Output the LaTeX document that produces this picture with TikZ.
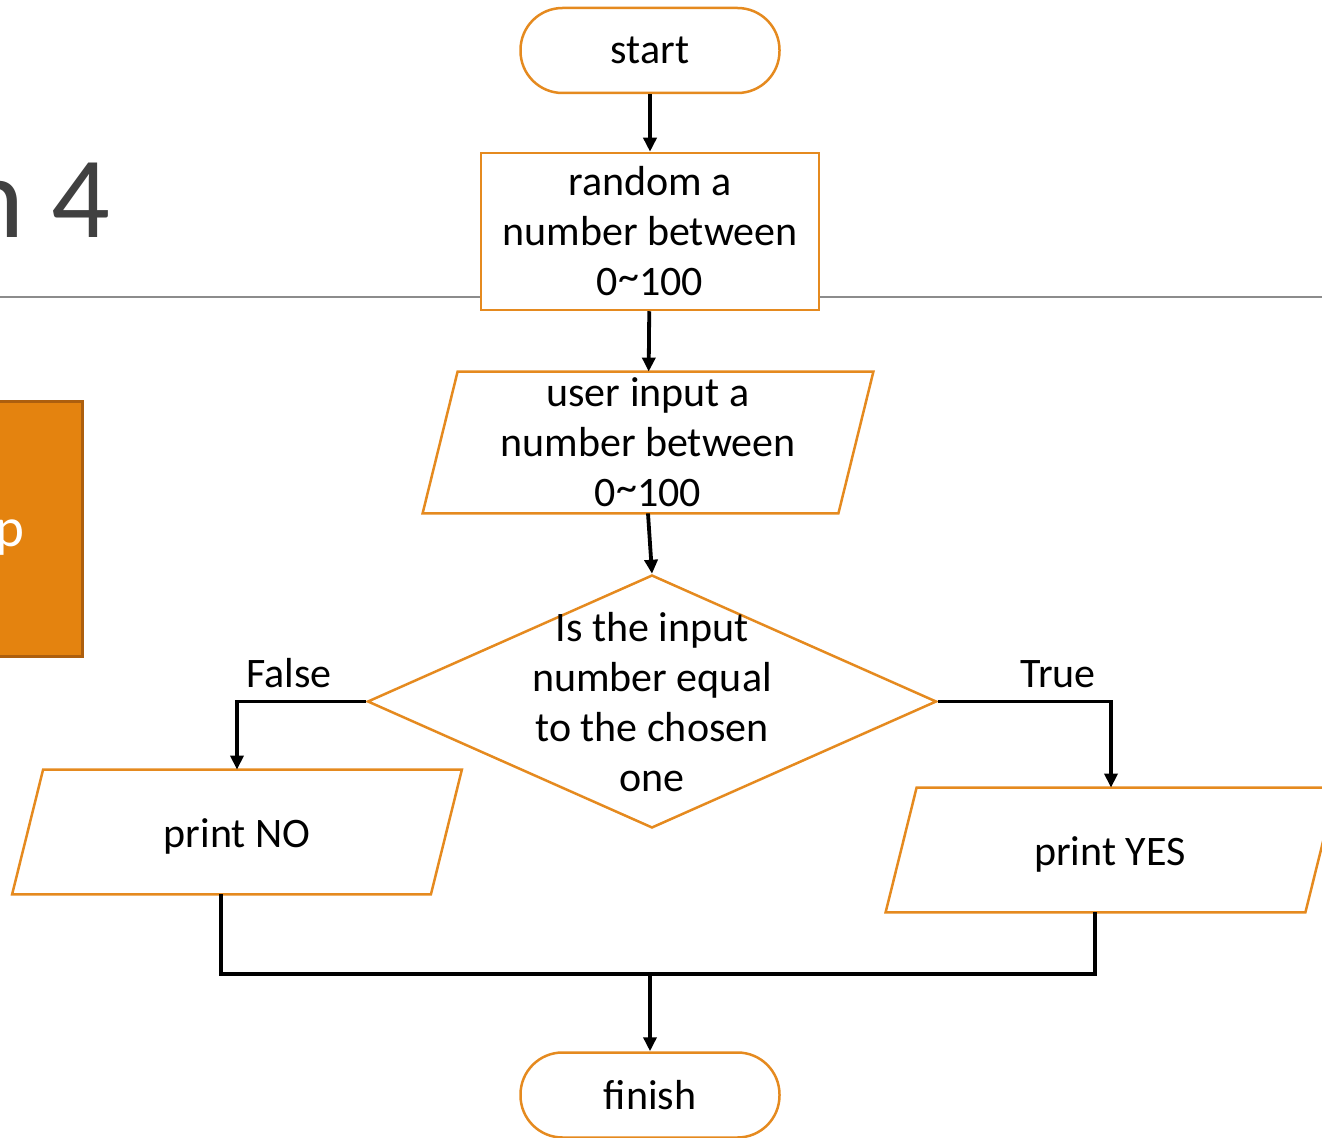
\documentclass[tikz,border=0pt]{standalone}
\usepackage{fontspec}
\setmainfont{Carlito}
\usetikzlibrary{shapes.geometric,arrows.meta}
\definecolor{edge}{HTML}{E58A1F}
\definecolor{boxfill}{HTML}{E4830F}
\definecolor{boxline}{HTML}{AD5F0E}
\definecolor{title}{HTML}{404040}
\definecolor{rulegray}{HTML}{8C8C8C}
\newcommand\tld{\raisebox{0.12em}{\textasciitilde}}
\tikzset{
  txt/.style={font=\fontsize{21}{25}\selectfont, text=black, align=center},
  term/.style={draw=edge, line width=1.25pt, rounded corners=21pt, fill=white,
    minimum width=129.5pt, minimum height=42.5pt, txt},
  proc/.style={draw=edge, line width=1.25pt, fill=white,
    minimum width=169pt, minimum height=78.5pt, txt},
  iobody/.style={inner sep=0pt, txt},
  io/.style={draw=edge, line width=1.25pt, line join=miter},
  decide/.style={diamond, draw=edge, line width=1.25pt, fill=white,
    minimum width=284.5pt, minimum height=126.5pt, inner sep=0pt},
  arr/.style={draw=black, line width=1.9pt, -{Triangle[length=7pt,width=6.5pt]}},
  wire/.style={draw=black, line width=1.9pt, line join=miter},
}

\begin{document}
\begin{tikzpicture}[x=0.5pt, y=-0.5pt]
  \useasboundingbox (0,0) rectangle (1322,1138);
  \clip (0,0) rectangle (1322,1138);

  % slide behind the chart
  \node[anchor=base east, text=title, font=\fontsize{58}{60}\selectfont] (ttl) at (117,238) {n 4};
  \draw[rulegray, line width=0.75pt] (0,297) -- (1322,297);
  \draw[draw=boxline, fill=boxfill, line width=1.5pt] (-10,402) rectangle (82,656);
  \node[anchor=base east, text=white, font=\fontsize{27.5}{30}\selectfont] (side) at (31,546) {p};

  % chart
  \node[term] (start) at (650,50.5) {start};
  \node[proc] (rnd) at (650,231.5) {random a\\number between\\0\tld100};
  \node[iobody, minimum width=207.5pt, minimum height=70.5pt] (inp) at (648,442.5)
    {user input a\\number between\\0\tld100};
  \node[decide] (dec) at (652,701.5) {};
  \node[txt] (dectxt) at (652,702) {Is the input\\number equal\\to the chosen\\one};
  \node[iobody, minimum width=209pt, minimum height=62pt] (no) at (237,832) {};
  \node[txt] (notxt) at (237,836) {print NO};
  \node[iobody, minimum width=209.5pt, minimum height=62pt] (yes) at (1111,850) {};
  \node[txt] (yestxt) at (1110,854) {print YES};
  \node[term] (fin) at (650,1095) {finish};

  \foreach \n/\s in {inp/8.75pt, no/7.75pt, yes/7.75pt}
    \draw[io] ([xshift=-\s]\n.south west) -- ([xshift=-\s]\n.south east)
      -- ([xshift=\s]\n.north east) -- ([xshift=\s]\n.north west) -- cycle;

  \node[txt] (lfalse) at (289,673) {False};
  \node[txt] (ltrue) at (1058,674) {True};

  \coordinate (noout) at ([xshift=-8pt]no.south);
  \coordinate (yesout) at ([xshift=-8pt]yes.south);
  \coordinate (mrg) at (650,974);

  \draw[arr] (start) -- (rnd);
  \draw[arr] (rnd) -- (inp);
  \draw[arr] (inp.south) -- (dec.north);
  \draw[arr] (dec.west) -| (no.north);
  \draw[arr] (dec.east) -| (yes.north);
  \draw[wire] (noout) |- (mrg);
  \draw[wire] (yesout) |- (mrg);
  \draw[arr] (mrg) -- (fin);
\end{tikzpicture}
\end{document}
